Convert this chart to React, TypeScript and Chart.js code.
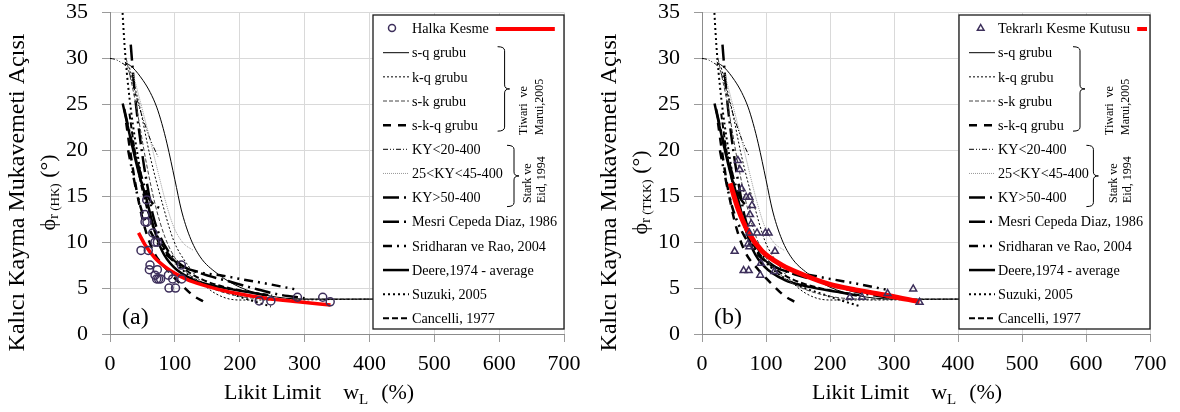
import React, { useEffect, useRef } from "react";
import { Chart, registerables } from "chart.js";

Chart.register(...registerables);

const FONT = "'Liberation Serif', 'Times New Roman', serif";

// ---------- axes ----------
const X_TICKS = [0, 100, 200, 300, 400, 500, 600, 700];
const Y_TICKS = [0, 5, 10, 15, 20, 25, 30, 35];

// ---------- texts ----------
const Y_TITLE = "Kalıcı Kayma Mukavemeti Açısı";
const X_TITLE = "Likit Limit";
const GROUP_TIWARI = ["Tiwari  ve", "Marui,2005"];
const GROUP_STARK = ["Stark ve", "Eid, 1994"];

// ---------- (a) Halka Kesme ----------
const HK_X = [56.6, 54, 54, 57, 66, 69.4, 73, 47.8, 59, 61.7, 60.7, 73, 69.4, 72, 75, 78, 90, 96.7, 91, 101, 110.6, 110, 230, 248, 289, 328, 339.5];
const HK_Y = [14.6, 13, 12.2, 12.2, 11, 10, 10, 9.1, 9.1, 7.5, 7.0, 7.0, 6.4, 6, 6, 6, 6.4, 6, 5, 5, 6, 7.5, 3.6, 3.6, 4.0, 4.0, 3.5];
const HK_FIT_X = [44, 55, 69, 85, 100, 120, 140, 160, 190, 240, 290, 340];
const HK_FIT_Y = [11.0, 9.6, 8.3, 7.3, 6.6, 5.9, 5.4, 5.0, 4.5, 3.9, 3.5, 3.15];

// ---------- (b) Tekrarlı Kesme Kutusu ----------
const TKK_X = [56, 59, 62, 69, 74, 78, 75, 77, 74, 86, 99, 104, 72, 74, 51, 114, 92, 65, 73, 91, 113, 231, 250, 290, 330, 340];
const TKK_Y = [18.9, 17.9, 15.8, 14.9, 14.9, 14, 13, 12, 11, 11, 11, 11, 9.8, 9.5, 9, 9, 7.7, 6.9, 6.9, 6.4, 6.8, 4.0, 4.0, 4.4, 4.9, 3.45];
const TKK_FIT_X = [44, 57, 73, 94, 125, 160, 200, 240, 290, 340];
const TKK_FIT_Y = [16.4, 13.5, 11, 9.0, 7.5, 6.4, 5.4, 4.8, 4.2, 3.5];

// ---------- literature curves (same in both panels) ----------
const SQ_X = [23, 35, 51, 62, 72, 80, 88, 100, 110, 123, 139, 165, 200, 242, 300, 700];
const SQ_Y = [29.6, 29.0, 27.6, 26.3, 24.7, 22.9, 20.7, 16.8, 13.5, 10.6, 8.4, 6.6, 5.1, 4.2, 3.8, 3.8];
const KQ_X = [30, 45, 62, 82, 98, 118, 149, 175, 200, 260, 400];
const KQ_Y = [29, 25, 19.3, 13.9, 10.2, 7.7, 5.1, 4.0, 3.7, 3.7, 3.8];
const SK_X = [25, 40, 55, 70, 85, 100, 120, 150, 200, 260, 700];
const SK_Y = [30, 25, 19, 14, 10.5, 8.3, 6.6, 5.2, 4.1, 3.8, 3.8];
const SKQ_X = [25, 32, 40, 52, 67, 88, 114, 128, 145];
const SKQ_Y = [23, 19.5, 16, 12, 9, 7, 5.1, 4.2, 3.5];
const KY20_X = [0, 8, 16, 26, 35, 43, 52, 62, 74];
const KY20_Y = [30, 29.9, 29.6, 29, 27.3, 25.2, 23.2, 21.2, 19.3];
const KY2545_X = [35, 46, 62, 74.5, 85, 98, 113, 128.6];
const KY2545_Y = [28.5, 25.5, 21.1, 17.5, 14.6, 11.7, 9.9, 9.1];
const KY50_X = [22, 30, 38, 45, 52, 59, 66, 74, 82];
const KY50_Y = [24.5, 22, 19.8, 18, 16.3, 14.9, 14.2, 13.8, 13.6];
const MESRI_X = [32, 36, 40, 46, 52, 58, 66, 75, 90, 110, 140, 180, 220, 260, 300];
const MESRI_Y = [31.5, 28, 25, 21.5, 18.5, 16, 13, 11, 9, 7.5, 6.6, 5.8, 5.0, 4.3, 3.9];
const SRI_X = [28, 35, 42, 50, 60, 72, 88, 110, 140, 170, 200, 240, 290];
const SRI_Y = [20, 17.5, 15.2, 13.2, 11.5, 10, 8.6, 7.4, 6.7, 6.4, 6.0, 5.5, 4.8];
const DEERE_X = [19.6, 33.5, 46, 56.6, 67, 80, 98, 128.6, 170, 211, 242];
const DEERE_Y = [25.1, 20.7, 17.1, 14.6, 11.7, 9.1, 7.3, 5.9, 5.1, 4.6, 4.2];
const SUZUKI_X = [19, 21, 24, 28, 33, 38, 45, 52, 60, 70, 85, 100, 120, 150, 190, 220, 248];
const SUZUKI_Y = [35.5, 33, 30, 27, 24, 21.5, 18.5, 15.5, 13, 11, 9, 7.8, 6.5, 5.3, 4.3, 3.6, 3.0];
const CAN_X = [30, 38, 46, 55, 65, 78, 95, 120, 150, 190, 230, 250];
const CAN_Y = [24, 20, 17, 14.2, 12, 10, 8.3, 6.8, 5.7, 4.9, 4.4, 4.2];

const CURVES = [
  { label: "s-q grubu", x: SQ_X, y: SQ_Y, w: 1, dash: [] as number[], color: "#000" },
  { label: "k-q grubu", x: KQ_X, y: KQ_Y, w: 1, dash: [2, 2], color: "#000" },
  { label: "s-k grubu", x: SK_X, y: SK_Y, w: 1, dash: [4, 2], color: "#444" },
  { label: "s-k-q grubu", x: SKQ_X, y: SKQ_Y, w: 2.5, dash: [8, 7], color: "#000" },
  { label: "KY<20-400", x: KY20_X, y: KY20_Y, w: 1, dash: [5, 2, 1, 2, 1, 2], color: "#000" },
  { label: "25<KY<45-400", x: KY2545_X, y: KY2545_Y, w: 1, dash: [1, 1], color: "#999" },
  { label: "KY>50-400", x: KY50_X, y: KY50_Y, w: 2.5, dash: [16, 5, 2, 5], color: "#000" },
  { label: "Mesri Cepeda Diaz, 1986", x: MESRI_X, y: MESRI_Y, w: 2.5, dash: [16, 5, 2, 5], color: "#000" },
  { label: "Sridharan ve Rao, 2004", x: SRI_X, y: SRI_Y, w: 2.5, dash: [9, 5, 2, 5, 2, 5], color: "#000" },
  { label: "Deere,1974 - average", x: DEERE_X, y: DEERE_Y, w: 2.5, dash: [] as number[], color: "#000" },
  { label: "Suzuki, 2005", x: SUZUKI_X, y: SUZUKI_Y, w: 2, dash: [2, 3], color: "#000" },
  { label: "Cancelli, 1977", x: CAN_X, y: CAN_Y, w: 2, dash: [6, 3], color: "#000" },
];

const POINT_COLOR = "#3d2f5b";
const RED = "#ff0000";

type PanelCfg = {
  pointsX: number[];
  pointsY: number[];
  pointStyle: "circle" | "triangle";
  pointLabel: string;
  fitX: number[];
  fitY: number[];
  fitWidth: number;
  sub: string;
  letter: string;
  padLeft: number;
  padRight: number;
  xTitleOffset: number;
  brace1: number;
  brace2: number;
  markerOffset: number;
};

const zip = (xs: number[], ys: number[]) => xs.map((x, i) => ({ x, y: ys[i] }));

function drawBrace(ctx: CanvasRenderingContext2D, x0: number, yT: number, yB: number) {
  const xv = x0 + 7;
  const xs = x0 + 12;
  const ym = (yT + yB) / 2;
  ctx.beginPath();
  ctx.moveTo(x0, yT);
  ctx.quadraticCurveTo(xv, yT, xv, yT + 4);
  ctx.lineTo(xv, ym - 4);
  ctx.quadraticCurveTo(xv, ym, xs, ym);
  ctx.quadraticCurveTo(xv, ym, xv, ym + 4);
  ctx.lineTo(xv, yB - 4);
  ctx.quadraticCurveTo(xv, yB, x0, yB);
  ctx.stroke();
}

function drawMarker(ctx: CanvasRenderingContext2D, style: string, x: number, y: number, r: number) {
  ctx.beginPath();
  if (style === "triangle") {
    ctx.moveTo(x, y - r);
    ctx.lineTo(x + r * 0.95, y + r * 0.65);
    ctx.lineTo(x - r * 0.95, y + r * 0.65);
    ctx.closePath();
  } else {
    ctx.arc(x, y, r, 0, Math.PI * 2);
  }
  ctx.stroke();
}

function makeOverlay(cfg: PanelCfg) {
  return {
    id: "overlay",
    afterDraw(chart: any) {
      const ctx: CanvasRenderingContext2D = chart.ctx;
      const ca = chart.chartArea;
      const ds = chart.data.datasets;

      // ---- y axis title ----
      ctx.save();
      ctx.fillStyle = "#000";
      ctx.font = `24px ${FONT}`;
      ctx.translate(ca.left - 86, 192.5);
      ctx.rotate(-Math.PI / 2);
      ctx.textAlign = "center";
      ctx.textBaseline = "alphabetic";
      ctx.fillText(Y_TITLE, 0, 0);
      ctx.restore();

      // second line: ϕr (HK) (°)
      const segs = [
        { t: "ϕ", s: 22, dy: 0 },
        { t: "r", s: 15, dy: 3 },
        { t: " (" + cfg.sub + ")", s: 13, dy: 4 },
        { t: " (°)", s: 22, dy: 0 },
      ];
      ctx.save();
      ctx.fillStyle = "#000";
      let total = 0;
      for (const sg of segs) {
        ctx.font = `${sg.s}px ${FONT}`;
        total += ctx.measureText(sg.t).width;
      }
      ctx.translate(ca.left - 55, 192.5);
      ctx.rotate(-Math.PI / 2);
      ctx.textAlign = "left";
      let cx = -total / 2;
      for (const sg of segs) {
        ctx.font = `${sg.s}px ${FONT}`;
        ctx.fillText(sg.t, cx, sg.dy);
        cx += ctx.measureText(sg.t).width;
      }
      ctx.restore();

      // ---- x axis title ----
      ctx.save();
      ctx.fillStyle = "#000";
      ctx.textAlign = "left";
      ctx.textBaseline = "alphabetic";
      let tx = ca.left + cfg.xTitleOffset;
      const by = 399;
      ctx.font = `22px ${FONT}`;
      ctx.fillText(X_TITLE, tx, by);
      tx += ctx.measureText(X_TITLE).width + 22;
      ctx.fillText("w", tx, by);
      tx += ctx.measureText("w").width;
      ctx.font = `15px ${FONT}`;
      ctx.fillText("L", tx, by + 5);
      tx += ctx.measureText("L").width + 13;
      ctx.font = `22px ${FONT}`;
      ctx.fillText("(%)", tx, by);

      // panel letter
      ctx.font = `24px ${FONT}`;
      ctx.fillText(cfg.letter, ca.left + 12, 324);
      ctx.restore();

      // ---- legend box ----
      const bl = ca.right - 191;
      const bt = ca.top + 2.5;
      const bb = ca.bottom - 5;
      const br = ca.right;
      ctx.save();
      ctx.fillStyle = "#fff";
      ctx.fillRect(bl, bt, br - bl, bb - bt);
      ctx.strokeStyle = "#1a1a1a";
      ctx.lineWidth = 1.3;
      ctx.strokeRect(bl, bt, br - bl, bb - bt);

      ctx.font = `14.2px ${FONT}`;
      ctx.fillStyle = "#000";
      ctx.textBaseline = "middle";
      ctx.textAlign = "left";

      // row 0: measured points + fit
      const r0 = bt + 13;
      ctx.strokeStyle = POINT_COLOR;
      ctx.lineWidth = 1.5;
      drawMarker(ctx, cfg.pointStyle, bl + cfg.markerOffset, r0, 3.5);
      ctx.fillText(ds[0].label, bl + 39, r0 + 1);
      const tEnd = bl + 39 + ctx.measureText(ds[0].label).width;
      const rs = tEnd + 7;
      const re = Math.min(tEnd + 66, br - 3);
      ctx.beginPath();
      ctx.strokeStyle = ds[1].borderColor;
      ctx.lineWidth = 4;
      ctx.moveTo(rs, r0 + 1);
      ctx.lineTo(re, r0 + 1);
      ctx.stroke();

      // rows for curves
      const rowY = (i: number) => bt + 37.7 + i * 24.15;
      for (let i = 0; i < CURVES.length; i++) {
        const d = ds[i + 2];
        const y = rowY(i);
        ctx.beginPath();
        ctx.setLineDash(d.borderDash || []);
        ctx.strokeStyle = d.borderColor;
        ctx.lineWidth = d.borderWidth;
        ctx.moveTo(bl + 10, y);
        ctx.lineTo(bl + 36, y);
        ctx.stroke();
        ctx.setLineDash([]);
        ctx.fillStyle = "#000";
        ctx.fillText(d.label, bl + 39, y + 1);
      }

      // braces
      ctx.strokeStyle = "#000";
      ctx.lineWidth = 1;
      drawBrace(ctx, bl + cfg.brace1, rowY(0) - 6, rowY(3) + 6);
      drawBrace(ctx, bl + cfg.brace2, rowY(4) - 4, rowY(6) + 9);

      // group texts
      const groupText = (lines: string[], bottom: number, xs: number[]) => {
        ctx.font = `12px ${FONT}`;
        ctx.textBaseline = "alphabetic";
        ctx.fillStyle = "#000";
        lines.forEach((ln, k) => {
          ctx.save();
          ctx.translate(bl + xs[k], bottom);
          ctx.rotate(-Math.PI / 2);
          ctx.fillText(ln, 0, 0);
          ctx.restore();
        });
      };
      groupText(GROUP_TIWARI, bt + 120, [154, 170]);
      groupText(GROUP_STARK, bt + 188, [158, 172]);
      ctx.restore();
    },
  };
}

function buildChart(canvas: HTMLCanvasElement, cfg: PanelCfg) {
  const datasets: any[] = [];
  datasets.push({
    label: cfg.pointLabel,
    data: zip(cfg.pointsX, cfg.pointsY),
    showLine: false,
    pointStyle: cfg.pointStyle,
    pointRadius: 4,
    pointBorderWidth: 1.5,
    pointBorderColor: POINT_COLOR,
    pointBackgroundColor: "rgba(0,0,0,0)",
    borderColor: POINT_COLOR,
    order: 0,
  });
  datasets.push({
    label: "fit",
    data: zip(cfg.fitX, cfg.fitY),
    borderColor: RED,
    borderWidth: cfg.fitWidth,
    pointRadius: 0,
    cubicInterpolationMode: "monotone",
    fill: false,
    order: 1,
  });
  CURVES.forEach((c, i) =>
    datasets.push({
      label: c.label,
      data: zip(c.x, c.y),
      borderColor: c.color,
      borderWidth: c.w,
      borderDash: c.dash,
      pointRadius: 0,
      cubicInterpolationMode: "monotone",
      fill: false,
      order: 2 + i,
    })
  );

  const tickFont = { family: FONT, size: 22 };
  return new Chart(canvas, {
    type: "line",
    data: { datasets },
    options: {
      animation: false,
      responsive: false,
      events: [],
      layout: { padding: { left: 0, right: cfg.padRight, top: 12.5, bottom: 0 } },
      plugins: { legend: { display: false }, tooltip: { enabled: false } },
      scales: {
        x: {
          type: "linear",
          min: 0,
          max: 700,
          afterBuildTicks: (s: any) => {
            s.ticks = X_TICKS.map((v) => ({ value: v }));
          },
          afterFit: (s: any) => {
            s.height = 78;
            s.paddingLeft = 0;
            s.paddingRight = 0;
          },
          grid: { color: "#d9d9d9", tickLength: 8, tickColor: "#9a9a9a" },
          border: { color: "#8c8c8c", width: 1 },
          ticks: { font: tickFont, color: "#000", padding: 9, maxRotation: 0, autoSkip: false },
        },
        y: {
          type: "linear",
          min: 0,
          max: 35,
          afterBuildTicks: (s: any) => {
            s.ticks = Y_TICKS.map((v) => ({ value: v }));
          },
          afterFit: (s: any) => {
            s.width = cfg.padLeft;
            s.paddingTop = 0;
            s.paddingBottom = 0;
          },
          grid: { color: "#d9d9d9", tickLength: 8, tickColor: "#9a9a9a" },
          border: { color: "#8c8c8c", width: 1 },
          ticks: { font: { ...tickFont, lineHeight: 1 }, color: "#000", padding: 14, autoSkip: false },
        },
      },
    } as any,
    plugins: [makeOverlay(cfg)],
  });
}

const PANEL_A: PanelCfg = {
  pointsX: HK_X,
  pointsY: HK_Y,
  pointStyle: "circle",
  pointLabel: "Halka Kesme",
  fitX: HK_FIT_X,
  fitY: HK_FIT_Y,
  fitWidth: 3.5,
  sub: "HK",
  letter: "(a)",
  padLeft: 110,
  padRight: 26,
  xTitleOffset: 114,
  brace1: 124.6,
  brace2: 134,
  markerOffset: 19,
};

const PANEL_B: PanelCfg = {
  pointsX: TKK_X,
  pointsY: TKK_Y,
  pointStyle: "triangle",
  pointLabel: "Tekrarlı Kesme Kutusu",
  fitX: TKK_FIT_X,
  fitY: TKK_FIT_Y,
  fitWidth: 5,
  sub: "TKK",
  letter: "(b)",
  padLeft: 112,
  padRight: 30,
  xTitleOffset: 110,
  brace1: 114,
  brace2: 127.4,
  markerOffset: 21.7,
};

function Panel({ cfg, left }: { cfg: PanelCfg; left: number }) {
  const ref = useRef<HTMLCanvasElement | null>(null);
  useEffect(() => {
    if (!ref.current) return;
    const chart = buildChart(ref.current, cfg);
    return () => chart.destroy();
  }, [cfg]);
  return (
    <canvas
      ref={ref}
      width={590}
      height={412}
      style={{ position: "absolute", left, top: 0, width: 590, height: 412, display: "block" }}
    />
  );
}

export default function App() {
  return (
    <div style={{ position: "absolute", left: 0, top: 0, width: 1180, height: 412, background: "#fff" }}>
      <Panel cfg={PANEL_A} left={0} />
      <Panel cfg={PANEL_B} left={590} />
    </div>
  );
}
